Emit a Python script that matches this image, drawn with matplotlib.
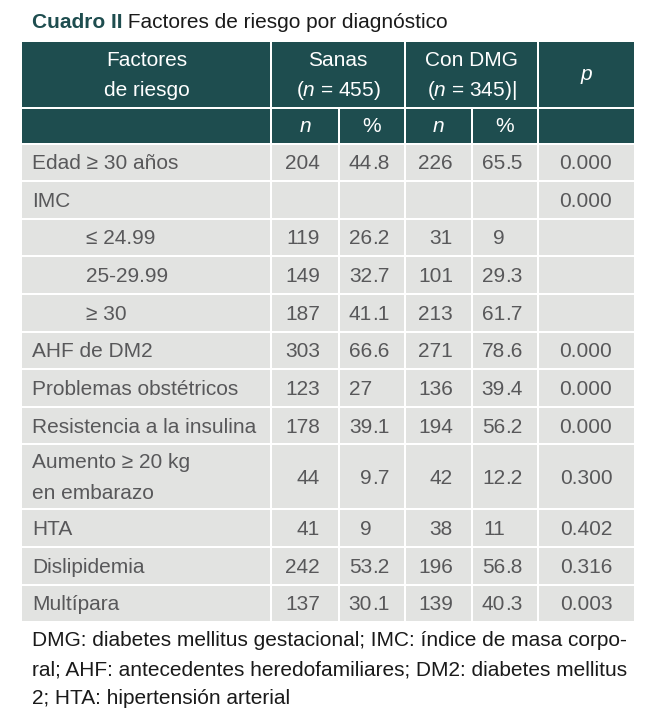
import matplotlib
matplotlib.use("Agg")
import matplotlib.pyplot as plt
from matplotlib.patches import Rectangle

plt.rcParams['font.family'] = ['Liberation Sans', 'DejaVu Sans']
plt.rcParams['mathtext.fontset'] = 'custom'
plt.rcParams['mathtext.rm'] = 'Liberation Sans'
plt.rcParams['mathtext.it'] = 'Liberation Sans:italic'

# ---- data ----
factors = ["Edad ≥ 30 años", "IMC", "≤ 24.99", "25-29.99", "≥ 30", "AHF de DM2",
           "Problemas obstétricos", "Resistencia a la insulina",
           "Aumento ≥ 20 kg\nen embarazo", "HTA", "Dislipidemia", "Multípara"]
indented = [False, False, True, True, True, False, False, False, False, False, False, False]
sanas_n = ["204", "", "119", "149", "187", "303", "123", "178", "44", "41", "242", "137"]
sanas_pct = ["44.8", "", "26.2", "32.7", "41.1", "66.6", "27", "39.1", "9.7", "9", "53.2", "30.1"]
dmg_n = ["226", "", "31", "101", "213", "271", "136", "194", "42", "38", "196", "139"]
dmg_pct = ["65.5", "", "9", "29.3", "61.7", "78.6", "39.4", "56.2", "12.2", "11", "56.8", "40.3"]
p_values = ["0.000", "0.000", "", "", "", "0.000", "0.000", "0.000", "0.300", "0.402", "0.316", "0.003"]

title_bold = "Cuadro II"
title_rest = " Factores de riesgo por diagnóstico"
footer = ["DMG: diabetes mellitus gestacional; IMC: índice de masa corpo-",
          "ral; AHF: antecedentes heredofamiliares; DM2: diabetes mellitus",
          "2; HTA: hipertensión arterial"]

# ---- style ----
HEAD = "#1e4d4f"
BODY = "#e2e3e1"
TXT = "#58585a"
FS = 15

W, H = 653, 719
fig = plt.figure(figsize=(W / 100, H / 100), dpi=100)
ax = fig.add_axes([0, 0, 1, 1])
ax.set_xlim(0, W)
ax.set_ylim(H, 0)
ax.axis('off')

cols = [22, 271, 339, 405, 472, 538, 634]
g = 1.0  # half gap


def cell(x0, x1, y0, y1, color):
    ax.add_patch(Rectangle((x0 + g, y0 + g), x1 - x0 - 2 * g, y1 - y0 - 2 * g,
                           facecolor=color, edgecolor='none'))


# title
t1 = ax.text(32, 23, title_bold, fontsize=15, fontweight='bold', color=HEAD,
             va='center', ha='left')
ax.annotate(title_rest, xy=(1, 0.5), xycoords=t1, fontsize=15, color='#1a1a1a',
            va='center', ha='left')

# header
h0, h1, h2 = 42, 108, 143.5
# row 1
cell(cols[0] - g, cols[1], h0 - g, h1, HEAD)
cell(cols[1], cols[3], h0 - g, h1, HEAD)
cell(cols[3], cols[5], h0 - g, h1, HEAD)
cell(cols[5], cols[6] + g, h0 - g, h1, HEAD)
# row 2
for i in range(6):
    cell(cols[i] - (g if i == 0 else 0), cols[i + 1] + (g if i == 5 else 0), h1, h2, HEAD)

ya, yb = 61, 91
ax.text((cols[0] + cols[1]) / 2, ya, "Factores", color='white', fontsize=FS, ha='center', va='center')
ax.text((cols[0] + cols[1]) / 2, yb, "de riesgo", color='white', fontsize=FS, ha='center', va='center')
ax.text((cols[1] + cols[3]) / 2, ya, "Sanas", color='white', fontsize=FS, ha='center', va='center')
ax.text((cols[1] + cols[3]) / 2, yb, "($n$ = 455)", color='white', fontsize=FS, ha='center', va='center')
ax.text((cols[3] + cols[5]) / 2, ya, "Con DMG", color='white', fontsize=FS, ha='center', va='center')
ax.text((cols[3] + cols[5]) / 2, yb, "($n$ = 345)|", color='white', fontsize=FS, ha='center', va='center')
ax.text((cols[5] + cols[6]) / 2, 75, "p", color='white', fontsize=FS, ha='center', va='center', style='italic')
sub = ["n", "%", "n", "%"]
for i, s in enumerate(sub):
    ax.text((cols[i + 1] + cols[i + 2]) / 2, (h1 + h2) / 2 + 1, s, color='white', fontsize=FS,
            ha='center', va='center', style='italic' if s == 'n' else 'normal')

# body
single = 37.6
double = 65.0
y = h2
n_right = [320, 453]
dec_x = [372, 505]
p_center = (cols[5] + cols[6]) / 2
for r, name in enumerate(factors):
    lines = name.count("\n") + 1
    hgt = single if lines == 1 else double
    for i in range(6):
        cell(cols[i] - (g if i == 0 else 0), cols[i + 1] + (g if i == 5 else 0), y, y + hgt, BODY)
    yc = y + hgt / 2 + 1.5
    x_lab = 86 if indented[r] else 32
    ax.text(x_lab, yc, name, color=TXT, fontsize=FS, ha='left', va='center', linespacing=1.8)
    for k, (nv, pv) in enumerate([(sanas_n[r], sanas_pct[r]), (dmg_n[r], dmg_pct[r])]):
        if nv:
            ax.text(n_right[k], yc, nv, color=TXT, fontsize=FS, ha='right', va='center')
        if pv:
            if "." in pv:
                ip, fp = pv.split(".")
                ax.text(dec_x[k], yc, ip, color=TXT, fontsize=FS, ha='right', va='center')
                ax.text(dec_x[k], yc, "." + fp, color=TXT, fontsize=FS, ha='left', va='center')
            else:
                ax.text(dec_x[k], yc, pv, color=TXT, fontsize=FS, ha='right', va='center')
    if p_values[r]:
        ax.text(p_center, yc, p_values[r], color=TXT, fontsize=FS, ha='center', va='center')
    y += hgt

# footer
for i, line in enumerate(footer):
    ax.text(32, 641 + i * 29, line, color='#1a1a1a', fontsize=FS, ha='left', va='center')

fig.savefig("out.png", dpi=100)
